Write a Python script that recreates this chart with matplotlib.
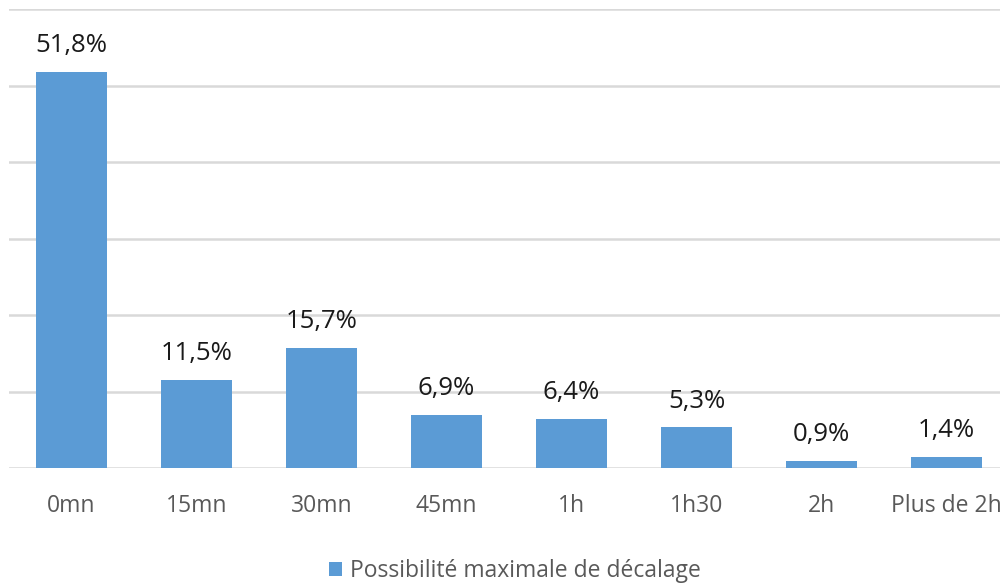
import matplotlib.pyplot as plt

categories = ['0mn', '15mn', '30mn', '45mn', '1h', '1h30', '2h', 'Plus de 2h']
values = [51.8, 11.5, 15.7, 6.9, 6.4, 5.3, 0.9, 1.4]
labels = ['51,8%', '11,5%', '15,7%', '6,9%', '6,4%', '5,3%', '0,9%', '1,4%']
series_name = 'Possibilité maximale de décalage'

plt.rcParams['font.family'] = ['Open Sans', 'DejaVu Sans']

fig = plt.figure(figsize=(10, 5.85), dpi=100)
# axes from x=9px to the right edge, baseline at y=468px
ax = fig.add_axes([0.009, 0.2, 0.991, 0.7846])

x = range(len(categories))
bars = ax.bar(x, values, width=0.57, color='#5B9BD5', label=series_name, zorder=3)

# data labels
for b, lab in zip(bars, labels):
    ax.annotate(lab, (b.get_x() + b.get_width() / 2, b.get_height()),
                xytext=(0, 10), textcoords='offset points',
                ha='center', va='bottom', fontsize=18.5, color='#1a1a1a')

ax.set_xlim(-0.5, -0.5 + 991 / 125)
ax.set_ylim(0, 60)
ax.set_yticks(range(0, 61, 10))
ax.set_yticklabels([])
ax.tick_params(axis='y', length=0)
ax.grid(axis='y', color='#D9D9D9', linewidth=1.8, zorder=0)

ax.set_xticks(list(x))
ax.set_xticklabels(categories, fontsize=16.5, color='#595959')
ax.tick_params(axis='x', length=0, pad=19)

for s in ['top', 'right', 'left', 'bottom']:
    ax.spines[s].set_visible(False)

fig.legend(loc='center', bbox_to_anchor=(0.515, 1 - 571 / 585), frameon=False,
           fontsize=16.5, labelcolor='#595959', handlelength=0.6, handleheight=0.6,
           handletextpad=0.35)

plt.savefig('out.png', dpi=100)
